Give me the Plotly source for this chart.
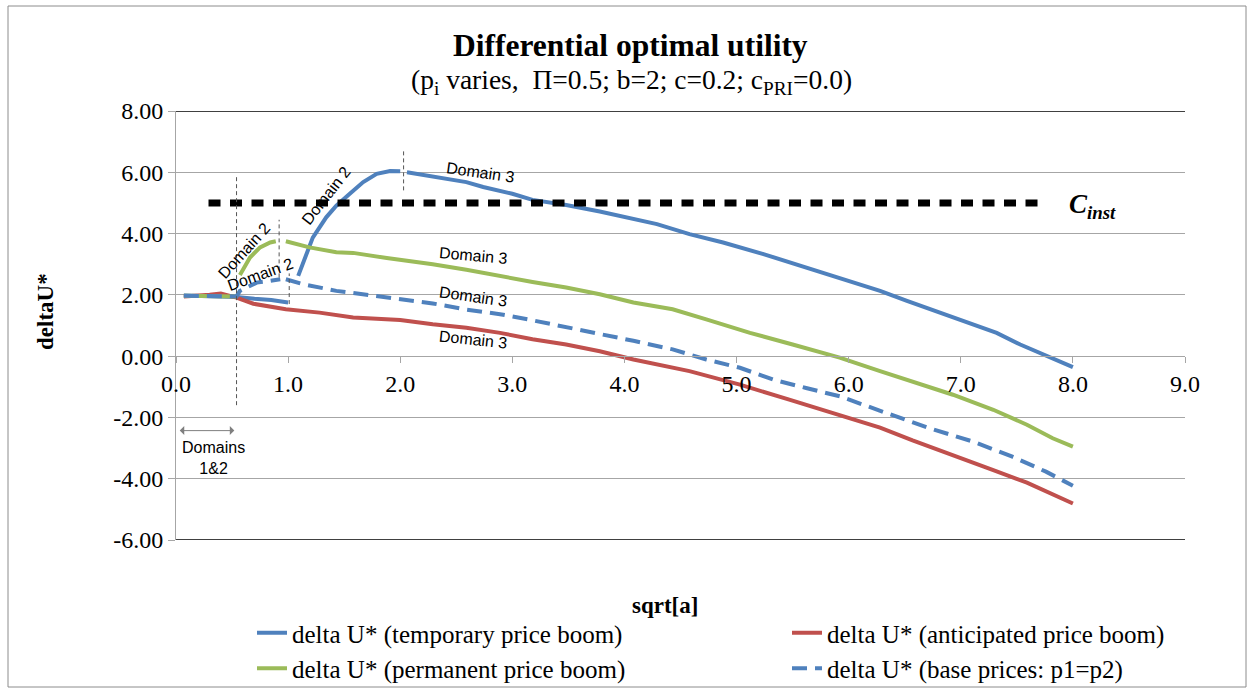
import plotly.graph_objects as go

# ---------------- data ----------------
x_temp = [0.07, 0.2, 0.3, 0.4, 0.54, 0.7, 0.85, 1.0, None,
          1.09, 1.13, 1.22, 1.34, 1.43, 1.55, 1.67, 1.79, 1.91, 2.0, None,
          2.06, 2.29, 2.59, 2.74, 3.0, 3.18, 3.48, 3.78, 4.08, 4.29, 4.58, 4.88,
          5.24, 5.62, 5.98, 6.28, 6.52, 6.81, 7.11, 7.32, 7.53, 7.77, 8.0]
y_temp = [1.98, 1.97, 1.96, 1.95, 1.93, 1.87, 1.83, 1.75, None,
          2.62, 3.0, 3.87, 4.53, 4.91, 5.3, 5.68, 5.95, 6.04, 6.03, None,
          6.0, 5.85, 5.68, 5.52, 5.3, 5.1, 4.93, 4.72, 4.48, 4.31, 3.98, 3.71,
          3.33, 2.89, 2.46, 2.13, 1.8, 1.42, 1.04, 0.76, 0.38, 0.0, -0.36]

x_ant = [0.07, 0.2, 0.3, 0.4, 0.54, 0.69, 0.98, 1.28, 1.58, 2.0, 2.29, 2.59,
         2.89, 3.18, 3.48, 3.78, 4.08, 4.58, 5.03, 5.47, 5.92, 6.28, 6.57,
         6.93, 7.29, 7.59, 7.82, 8.0]
y_ant = [1.95, 1.96, 2.0, 2.04, 1.91, 1.71, 1.53, 1.42, 1.26, 1.18, 1.04, 0.93,
         0.76, 0.55, 0.38, 0.16, -0.11, -0.49, -0.93, -1.42, -1.91, -2.33, -2.75,
         -3.22, -3.72, -4.13, -4.5, -4.81]

x_perm = [0.07, 0.2, 0.3, 0.4, 0.54, None,
          0.57, 0.66, 0.75, 0.84, 0.89, None,
          0.98, 1.19, 1.43, 1.58, 1.88, 2.29, 2.59, 2.83, 3.0, 3.18, 3.48, 3.78,
          4.08, 4.43, 4.73, 5.12, 5.5, 5.92, 6.28, 6.57, 6.93, 7.29, 7.59, 7.82, 8.0]
y_perm = [1.97, 1.97, 1.97, 1.96, 1.95, None,
          2.65, 3.22, 3.55, 3.71, 3.75, None,
          3.75, 3.55, 3.39, 3.37, 3.2, 3.0, 2.82, 2.65, 2.52, 2.42, 2.24, 2.02,
          1.75, 1.53, 1.2, 0.76, 0.38, -0.05, -0.49, -0.82, -1.26, -1.75, -2.24, -2.68, -2.95]

x_base = [0.07, 0.2, 0.3, 0.4, 0.54, 0.57, 0.72, 0.84, 0.93, None,
          0.98, 1.13, 1.43, 1.73, 2.0, 2.29, 2.59, 2.89, 3.18, 3.48, 3.78, 4.08,
          4.43, 4.73, 5.03, 5.33, 5.62, 5.92, 6.34, 6.72, 7.11, 7.46, 7.76, 8.0]
y_base = [1.97, 1.97, 1.96, 1.96, 1.95, 2.13, 2.4, 2.46, 2.51, None,
          2.51, 2.35, 2.13, 1.98, 1.87, 1.72, 1.52, 1.37, 1.17, 0.95, 0.72, 0.5,
          0.22, -0.11, -0.38, -0.77, -1.04, -1.31, -1.86, -2.35, -2.79, -3.28, -3.77, -4.23]

x_cinst = [0.29, 7.7]
y_cinst = [5.0, 5.0]

# vertical domain-boundary markers
vline_x = [0.54, 0.92, 1.01, 2.03]
vline_y0 = [-1.6, 2.57, 1.7, 5.41]
vline_y1 = [5.9, 4.45, 2.7, 6.72]

# domain labels: text, x, y, angle
dom_text = ["Domain 3", "Domain 3", "Domain 3", "Domain 3", "Domain 2", "Domain 2", "Domain 2"]
dom_x = [2.72, 2.65, 2.65, 2.65, 1.34, 0.61, 0.75]
dom_y = [5.98, 3.27, 1.96, 0.55, 5.24, 3.44, 2.67]
dom_ang = [8, 5, 8, 6, -52, -48, -20]

y_ticks = [-6, -4, -2, 0, 2, 4, 6, 8]
y_ticklabels = ["-6.00", "-4.00", "-2.00", "0.00", "2.00", "4.00", "6.00", "8.00"]
x_ticks = [0, 1, 2, 3, 4, 5, 6, 7, 8, 9]
x_ticklabels = ["0.0", "1.0", "2.0", "3.0", "4.0", "5.0", "6.0", "7.0", "8.0", "9.0"]

names = ["delta U* (temporary price boom)", "delta U* (anticipated price boom)",
         "delta U* (permanent price boom)", "delta U* (base prices: p1=p2)"]

BLUE = "#4F81BD"
RED = "#C0504D"
GREEN = "#9BBB59"
SERIF = "Liberation Serif"
SANS = "Liberation Sans"

W, H = 1249, 690
L, R, T, B = 176, 1185, 111, 540
PW, PH = R - L, B - T

fig = go.Figure()
fig.add_trace(go.Scatter(x=x_temp, y=y_temp, mode="lines", name=names[0], legend="legend",
                         line=dict(color=BLUE, width=4), connectgaps=False))
fig.add_trace(go.Scatter(x=x_ant, y=y_ant, mode="lines", name=names[1], legend="legend2",
                         line=dict(color=RED, width=4)))
fig.add_trace(go.Scatter(x=x_perm, y=y_perm, mode="lines", name=names[2], legend="legend",
                         line=dict(color=GREEN, width=4), connectgaps=False))
fig.add_trace(go.Scatter(x=x_base, y=y_base, mode="lines", name=names[3], legend="legend2",
                         line=dict(color=BLUE, width=4, dash="15px,8px"), connectgaps=False))
fig.add_trace(go.Scatter(x=x_cinst, y=y_cinst, mode="lines", showlegend=False,
                         line=dict(color="black", width=7, dash="12px,9.5px")))

# vertical dashed markers
for xv, a, b in zip(vline_x, vline_y0, vline_y1):
    fig.add_shape(type="line", x0=xv, x1=xv, y0=a, y1=b, xref="x", yref="y",
                  line=dict(color="#555555", width=1, dash="4px,3px"))

# plot area top / bottom border
fig.add_shape(type="line", xref="paper", yref="y", x0=0, x1=1, y0=8, y1=8,
              line=dict(color="black", width=1.5))
fig.add_shape(type="line", xref="paper", yref="y", x0=0, x1=1, y0=-6, y1=-6,
              line=dict(color="black", width=1.5))
# outer chart border
fig.add_shape(type="rect", xref="paper", yref="paper",
              x0=(8 - L) / PW, x1=(1246 - L) / PW,
              y0=(B - 687) / PH, y1=(B - 6) / PH,
              line=dict(color="#8c8c8c", width=1), layer="below")

for t, xx, yy, ang in zip(dom_text, dom_x, dom_y, dom_ang):
    fig.add_annotation(x=xx, y=yy, text=t, showarrow=False, textangle=ang,
                       xanchor="center", yanchor="middle",
                       font=dict(family=SANS, size=16, color="black"))

fig.add_annotation(x=0.33, y=-3.34, text="Domains<br>1&2", showarrow=False,
                   xanchor="center", yanchor="middle",
                   font=dict(family=SANS, size=16, color="black"))
fig.add_annotation(x=0.52, y=-2.43, ax=0.02, ay=-2.43, axref="x", ayref="y",
                   text="", showarrow=True, arrowhead=1, startarrowhead=1,
                   arrowside="end+start", arrowcolor="#7f7f7f", arrowwidth=1,
                   arrowsize=1.5, startarrowsize=1.5)

fig.add_annotation(x=7.95, y=4.9, text="<b><i>C<sub>inst</sub></i></b>", showarrow=False,
                   xanchor="left", yanchor="middle",
                   font=dict(family=SERIF, size=27, color="black"))

# titles
fig.add_annotation(xref="paper", yref="paper", x=(630 - L) / PW, y=(B - 45) / PH,
                   xanchor="center", yanchor="middle",
                   text="<b>Differential optimal utility</b>", showarrow=False,
                   font=dict(family=SERIF, size=31.5, color="black"))
fig.add_annotation(xref="paper", yref="paper", x=(631 - L) / PW, y=(B - 82) / PH,
                   xanchor="center", yanchor="middle",
                   text="(p<sub>i</sub> varies,  \u03a0=0.5; b=2; c=0.2; c<sub>PRI</sub>=0.0)",
                   showarrow=False, font=dict(family=SERIF, size=27.5, color="black"))
fig.add_annotation(xref="paper", yref="paper", x=(665 - L) / PW, y=(B - 605) / PH,
                   xanchor="center", yanchor="middle",
                   text="<b>sqrt[a]</b>", showarrow=False,
                   font=dict(family=SERIF, size=23, color="black"))
fig.add_annotation(xref="paper", yref="paper", x=(45 - L) / PW, y=(B - 312) / PH,
                   xanchor="center", yanchor="middle",
                   text="<b>deltaU*</b>", showarrow=False, textangle=-90,
                   font=dict(family=SERIF, size=23, color="black"))

leg_common = dict(orientation="v", xanchor="left", yanchor="top",
                  xref="container", yref="container",
                  font=dict(family=SERIF, size=25, color="black"),
                  bgcolor="rgba(0,0,0,0)", tracegroupgap=0)

fig.update_layout(
    width=W, height=H,
    margin=dict(l=L, r=W - R, t=T, b=H - B, autoexpand=False),
    paper_bgcolor="white", plot_bgcolor="white",
    font=dict(family=SERIF, size=24, color="black"),
    showlegend=True,
    legend=dict(x=252 / W, y=1 - 610 / H, **leg_common),
    legend2=dict(x=787 / W, y=1 - 610 / H, **leg_common),
    xaxis=dict(range=[0, 9], tickvals=x_ticks, ticktext=x_ticklabels,
               anchor="free", position=6 / 14, showgrid=False, zeroline=False,
               showline=True, linecolor="#a6a6a6", linewidth=1,
               ticks="outside", ticklen=6, tickcolor="#a6a6a6",
               tickfont=dict(family=SERIF, size=24, color="black")),
    yaxis=dict(range=[-6, 8], tickvals=y_ticks, ticktext=y_ticklabels,
               showgrid=True, gridcolor="#a6a6a6", gridwidth=1, zeroline=False,
               showline=True, linecolor="#a6a6a6", linewidth=1,
               ticks="outside", ticklen=7, tickcolor="#a6a6a6",
               tickfont=dict(family=SERIF, size=24, color="black")),
)

fig.write_html("out.html")
